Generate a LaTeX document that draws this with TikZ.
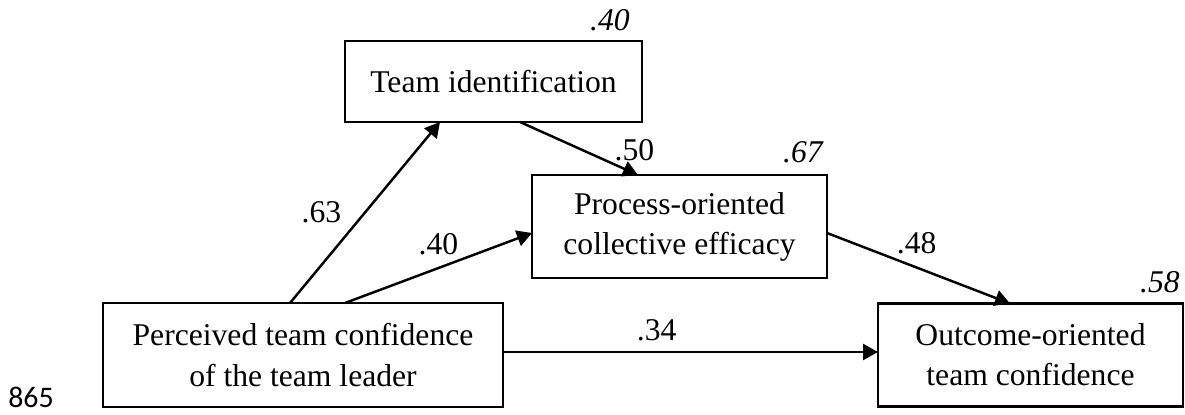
\documentclass[tikz,border=0pt]{standalone}
\usepackage{fontspec}
\setmainfont{Liberation Serif}
\newfontfamily\numfont{Carlito}
\usepackage{tikz}
\usetikzlibrary{
  arrows.meta,
  positioning
}

\begin{document}
\begin{tikzpicture}[
  blk/.style = {
    rectangle, draw=black, line width=1.6pt, outer sep=0pt,
    align=center, inner sep=0pt,
    font=\fontsize{18}{22.8}\selectfont
  },
  arr/.style = {-{Triangle[length=0.3cm, width=0.32cm]}, line width=1.4pt},
  lbl/.style = {inner sep=0pt, font=\fontsize{18}{22.8}\selectfont},
  rsq/.style = {inner sep=0pt, font=\fontsize{18}{22.8}\selectfont\itshape},
  node distance = 0.5cm and 0.58cm
]
\useasboundingbox (0,0) rectangle (23.7,-8.28);

% Fila inferior: predictor y resultado
\node[blk, minimum width=8cm, minimum height=2.08cm] (lead) at (6.06,-7.10)
  {Perceived team confidence\\of the team leader};
\node[blk, minimum width=6.1cm, minimum height=2.06cm, right=7.5cm of lead] (outc)
  {Outcome-oriented\\team confidence};

% Mediadores
\node[blk, minimum width=5.9cm, minimum height=2.06cm, above right=0.5cm and 0.58cm of lead] (proc)
  {Process-oriented\\collective efficacy};
\node[blk, minimum width=5.94cm, minimum height=1.62cm, above=3.62cm of lead, xshift=3.81cm] (ident)
  {Team identification};

% Varianza explicada
\node[rsq, above left=0.2cm and 0.24cm of ident.north east] (r2ident) {.40};
\node[rsq, above left=0.24cm and 0.08cm of proc.north east] (r2proc)  {.67};
\node[rsq, above left=0.2cm and 0.06cm of outc.north east]  (r2outc)  {.58};

% Flechas con coeficientes
\draw[arr] ([xshift=-0.26cm]lead.north) -- node[lbl, pos=0.5, left=0.45cm] {.63} ([xshift=-1.07cm]ident.south);
\draw[arr] ([xshift=0.84cm]lead.north)  -- node[lbl, pos=0.5, above=0.24cm] {.40} ([yshift=-0.13cm]proc.west);
\draw[arr] ([xshift=0.53cm]ident.south) -- node[lbl, pos=0.97, above=0.22cm] {.50} ([xshift=-0.83cm]proc.north);
\draw[arr] ([yshift=-0.13cm]proc.east)  -- node[lbl, pos=0.49, above=0.24cm] {.48} ([xshift=-0.41cm]outc.north);
\draw[arr] ([yshift=0.06cm]lead.east)   -- node[lbl, pos=0.41, above=0.2cm] {.34} ([yshift=0.06cm]outc.west);

% Numero de linea
\node[inner sep=0pt, font=\numfont\fontsize{17}{20}\selectfont] (lineno) at (0.62,-7.95) {865};

\end{tikzpicture}
\end{document}
